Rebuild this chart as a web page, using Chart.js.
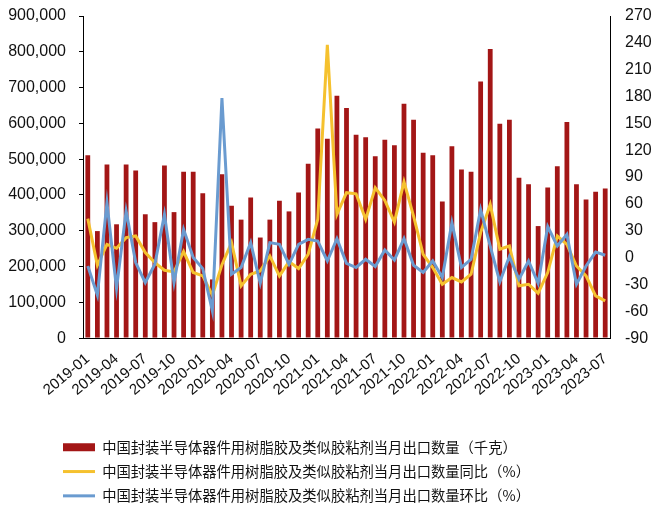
<!DOCTYPE html>
<html>
<head>
<meta charset="utf-8">
<script src="https://cdn.jsdelivr.net/npm/chart.js@4/dist/chart.umd.min.js"></script>
<style>
    html, body { margin: 0; padding: 0; background: #fff; }
    #wrap { width: 662px; height: 515px; }
</style>
</head>
<body>
<div id="wrap"><canvas id="exportChart"></canvas></div>
<script>
// Monthly categories 2019-01 .. 2023-07
const months = [
    '2019-01', '2019-02', '2019-03', '2019-04', '2019-05', '2019-06', '2019-07', '2019-08', '2019-09', '2019-10', '2019-11', '2019-12',
    '2020-01', '2020-02', '2020-03', '2020-04', '2020-05', '2020-06', '2020-07', '2020-08', '2020-09', '2020-10', '2020-11', '2020-12',
    '2021-01', '2021-02', '2021-03', '2021-04', '2021-05', '2021-06', '2021-07', '2021-08', '2021-09', '2021-10', '2021-11', '2021-12',
    '2022-01', '2022-02', '2022-03', '2022-04', '2022-05', '2022-06', '2022-07', '2022-08', '2022-09', '2022-10', '2022-11', '2022-12',
    '2023-01', '2023-02', '2023-03', '2023-04', '2023-05', '2023-06', '2023-07'
];

// 当月出口数量 (千克)
const exportQty = [
    511000, 299000, 485000, 318000, 485000, 468000, 346000, 324000, 482000, 352000, 465000, 465000,
    405000, 164000, 458000, 370000, 331000, 393000, 281000, 331000, 384000, 354000, 407000, 487000,
    586000, 557000, 677000, 643000, 568000, 561000, 508000, 554000, 539000, 655000, 610000, 518000,
    511000, 382000, 536000, 471000, 465000, 717000, 808000, 599000, 610000, 448000, 430000, 313000,
    421000, 480000, 604000, 430000, 387000, 409000, 418000
];

// 同比 (%)
const yoyPct = [
    43.5, -8.6, 14.8, 10.4, 22.3, 24.1, 5.6, -5.6, -14.2, -16, 6.7, -16.7,
    -20.5, -42, -8, 16.7, -31.6, -18.6, -14.9, 1.8, -20.5, -4.5, -12.3, 3.7,
    42.7, 237.8, 48.3, 72.5, 71.3, 42.7, 78, 63.9, 39.7, 84.7, 46.4, 3.7,
    -11.1, -29.8, -22.3, -27.2, -18.6, 27.9, 59.4, 9.3, 12.9, -31.6, -29.8, -39.8,
    -16.7, 24.1, 14.8, -9.4, -20.5, -42.8, -48.4
];

// 环比 (%)
const momPct = [
    -9.4, -42, 61.3, -34.6, 52, -5.6, -27.9, -7.5, 48.3, -27.9, 31.5, 0,
    -12.3, -59.5, 178.4, -18.6, -11.1, 16.7, -28.7, 16.7, 14.8, -7.5, 14.8, 20.4,
    18.5, -3.8, 21.2, -6.4, -11.1, -1.9, -10, 8.5, -2.7, 21.2, -8.6, -16.7,
    -3.8, -22.3, 39, -11.1, -1.9, 53.8, 12.9, -27.2, 1.1, -24.2, -3.8, -28.7,
    34.6, 12.9, 26, -29.8, -9.4, 6.2, 2.6
];

const seriesNames = [
    '中国封装半导体器件用树脂胶及类似胶粘剂当月出口数量（千克）',
    '中国封装半导体器件用树脂胶及类似胶粘剂当月出口数量同比（%）',
    '中国封装半导体器件用树脂胶及类似胶粘剂当月出口数量环比（%）'
];

const tickFont = { family: "'Liberation Sans', Arial, sans-serif", size: 16 };
const xTickFont = { family: "'Liberation Sans', Arial, sans-serif", size: 15 };
const legendFont = { family: "'Noto Sans CJK SC', sans-serif", size: 14.3 };

// nudge the bottom legend so its rows start under the plot like the original
const legendShift = {
    id: 'legendShift',
    afterLayout: function (chart) {
        if (chart.legend) chart.legend.left = 53;
    }
};

new Chart(document.getElementById('exportChart'), {
    data: {
        labels: months,
        datasets: [{
            type: 'bar',
            label: seriesNames[0],
            data: exportQty,
            yAxisID: 'y',
            backgroundColor: '#A31616',
            barPercentage: 0.5,
            categoryPercentage: 1.0,
            order: 3
        }, {
            type: 'line',
            label: seriesNames[1],
            data: yoyPct,
            yAxisID: 'y1',
            borderColor: '#F5C12E',
            backgroundColor: '#F5C12E',
            borderWidth: 3,
            pointRadius: 0,
            tension: 0,
            order: 2
        }, {
            type: 'line',
            label: seriesNames[2],
            data: momPct,
            yAxisID: 'y1',
            borderColor: '#6A9BD0',
            backgroundColor: '#6A9BD0',
            borderWidth: 3,
            pointRadius: 0,
            tension: 0,
            order: 1
        }]
    },
    options: {
        responsive: true,
        maintainAspectRatio: false,
        animation: false,
        layout: { padding: { left: 0, right: 0, top: 16, bottom: 2 } },
        plugins: {
            legend: {
                position: 'bottom',
                align: 'start',
                labels: {
                    usePointStyle: true,
                    pointStyleWidth: 32,
                    boxHeight: 8,
                    padding: 10,
                    color: '#111',
                    font: legendFont,
                    sort: function (a, b) { return a.datasetIndex - b.datasetIndex; },
                    generateLabels: function (chart) {
                        const items = Chart.defaults.plugins.legend.labels.generateLabels(chart);
                        items.forEach(function (item) {
                            if (item.datasetIndex === 0) {
                                item.pointStyle = 'rect';
                                item.lineWidth = 0;
                            } else {
                                item.pointStyle = 'line';
                                item.lineWidth = 3;
                            }
                        });
                        return items;
                    }
                }
            },
            tooltip: { enabled: false }
        },
        scales: {
            x: {
                grid: { display: false },
                border: { display: true, color: '#000' },
                ticks: {
                    autoSkip: false,
                    minRotation: 40,
                    maxRotation: 40,
                    padding: 4,
                    color: '#111',
                    font: xTickFont,
                    callback: function (value, index) {
                        return index % 3 === 0 ? months[index] : '';
                    }
                },
                afterFit: function (axis) { axis.height = 92; }
            },
            y: {
                position: 'left',
                min: 0,
                max: 900000,
                // long tick slot keeps the label gap; only the last 4px next to the axis is visible
                grid: {
                    display: true, drawOnChartArea: false, drawTicks: true,
                    tickLength: 17, color: '#000', tickBorderDash: [0, 13, 4, 40]
                },
                border: { display: true, color: '#000' },
                ticks: {
                    stepSize: 100000,
                    padding: 0,
                    color: '#111',
                    font: tickFont,
                    callback: function (v) { return v.toLocaleString('en-US'); }
                },
                afterFit: function (axis) { axis.width = 83; }
            },
            y1: {
                position: 'right',
                min: -90,
                max: 270,
                grid: {
                    display: true, drawOnChartArea: false, drawTicks: true,
                    tickLength: 15, tickColor: 'rgba(0,0,0,0)'
                },
                border: { display: true, color: '#000' },
                ticks: {
                    stepSize: 30,
                    padding: 0,
                    color: '#111',
                    font: tickFont
                },
                afterFit: function (axis) { axis.width = 52; }
            }
        }
    },
    plugins: [legendShift]
});
</script>
</body>
</html>
